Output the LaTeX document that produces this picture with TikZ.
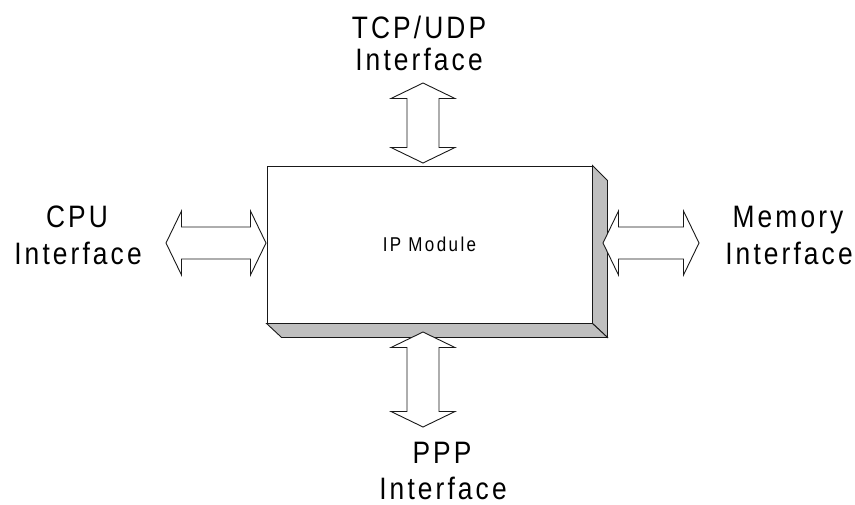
\documentclass[tikz,border=0pt]{standalone}
\usepackage{fontspec}
\setmainfont{Liberation Sans}
\newfontfamily\labelfont[LetterSpace=10,FakeStretch=0.85]{Liberation Sans}
\newfontfamily\modfont[LetterSpace=12,FakeStretch=0.85]{Liberation Sans}
\usetikzlibrary{calc}

\tikzset{
  outline/.style={draw=black!90, line width=0.9pt, line join=miter},
  module/.style={outline, fill=white, minimum width=325pt, minimum height=157pt,
                 inner sep=0pt, font=\modfont\fontsize{20}{24}\selectfont},
  sideface/.style={outline, fill=black!25},
  bus/.style={outline, fill=white},
  iflabel/.style={anchor=base, inner sep=0pt, font=\labelfont\fontsize{31}{36}\selectfont}
}

% Hollow double-headed bus arrow between two tip coordinates
\newcommand\busarrow[2]{%
  \draw[bus] (#1)
    -- ($(#1)!15.5pt!(#2)!32pt!90:(#2)$)
    -- ($(#1)!15.5pt!(#2)!16pt!90:(#2)$)
    -- ($(#2)!15.5pt!(#1)!16pt!-90:(#1)$)
    -- ($(#2)!15.5pt!(#1)!32pt!-90:(#1)$)
    -- (#2)
    -- ($(#2)!15.5pt!(#1)!32pt!90:(#1)$)
    -- ($(#2)!15.5pt!(#1)!16pt!90:(#1)$)
    -- ($(#1)!15.5pt!(#2)!16pt!-90:(#2)$)
    -- ($(#1)!15.5pt!(#2)!32pt!-90:(#2)$)
    -- cycle;}

\begin{document}
\begin{tikzpicture}[x=1pt, y=-1pt]
  \useasboundingbox (0,0) rectangle (855,504);

  % the module block with its 3-D edges
  \node[module] (ipm) at (429.5,244.5) {IP Module};
  \draw[sideface] (ipm.north east) -- ++(15,15) -- ($(ipm.south east)+(15,14)$)
                  -- (ipm.south east) -- cycle;
  \draw[sideface] (ipm.south west) -- ++(15,14) -- ($(ipm.south east)+(15,14)$)
                  -- (ipm.south east) -- cycle;

  % bus arrow end points
  \coordinate (topA) at (423,83);
  \coordinate (topB) at (423,163);
  \coordinate (botA) at (423,332);
  \coordinate (botB) at (423,427);
  \coordinate (lftA) at (166,243);
  \coordinate (lftB) at (266,243);
  \coordinate (rgtA) at (603,243);
  \coordinate (rgtB) at (699,243);

  \busarrow{topA}{topB}
  \busarrow{botA}{botB}
  \busarrow{lftA}{lftB}
  \busarrow{rgtA}{rgtB}

  % interface labels
  \node[iflabel] (tcp1) at (419,38) {TCP/UDP};
  \node[iflabel] (tcp2) at (419,70) {Interface};
  \node[iflabel] (cpu1) at (77,227) {CPU};
  \node[iflabel] (cpu2) at (78,264) {Interface};
  \node[iflabel] (mem1) at (788,227) {Memory};
  \node[iflabel] (mem2) at (789,264) {Interface};
  \node[iflabel] (ppp1) at (442,463) {PPP};
  \node[iflabel] (ppp2) at (443,499) {Interface};
\end{tikzpicture}
\end{document}
